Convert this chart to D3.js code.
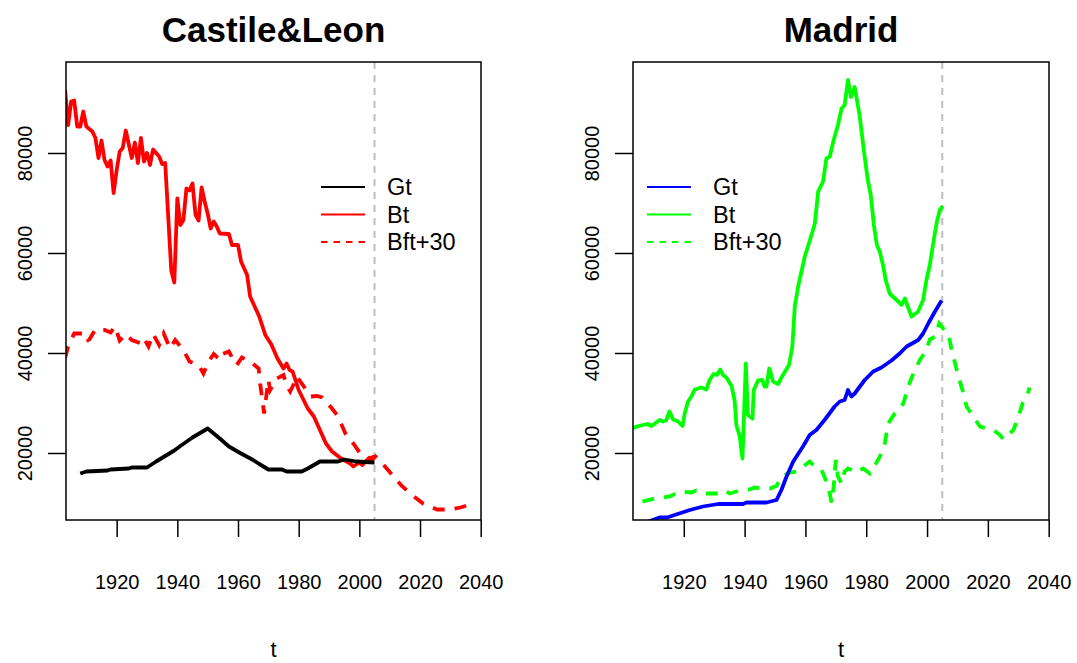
<!DOCTYPE html>
<html>
<head>
<meta charset="utf-8">
<script src="https://cdnjs.cloudflare.com/ajax/libs/d3/7.8.5/d3.min.js"></script>
<style>
    body { margin: 0; background: #fff; }
    svg text { font-family: "Liberation Sans", Arial, Helvetica, sans-serif; }
</style>
</head>
<body>
<div id="chart"></div>
<script>
// values: [year, value]
var clGt = [[1908,15900],[1910,16300],[1917,16500],[1918,16700],[1924,16900],[1925,17100],[1930,17100],[1933,18300],[1936,19400],[1939,20500],[1941,21400],[1945,23100],[1950,24900],[1954,22900],[1957,21300],[1961,19900],[1965,18600],[1967,17800],[1970,16700],[1974.5,16700],[1976,16300],[1981,16300],[1983,16900],[1987,18300],[1993,18300],[1995,18700],[1999,18300],[2005,18100]];

var clBt = [[1903,92600],[1904,85600],[1905,90300],[1906,90500],[1907,85300],[1908,85300],[1909,88300],[1910,85300],[1912,84300],[1913,83000],[1914,79000],[1915,82500],[1916,78600],[1917,77300],[1918,78500],[1919,72000],[1920,76600],[1921,80300],[1922,81000],[1923,84500],[1925,79000],[1926,82100],[1927,78000],[1928,83000],[1929,78300],[1930,80000],[1931,77600],[1932,80700],[1934,79300],[1935,77800],[1936,78000],[1938,56500],[1939,54100],[1940,70900],[1941,65600],[1942,66600],[1943,72900],[1944,72500],[1945,73900],[1946,67600],[1947,66500],[1948,73100],[1949,70300],[1950,67900],[1951,64900],[1952,66300],[1953,65300],[1954,63900],[1957,63800],[1958,61600],[1960,61600],[1961,58300],[1963,55600],[1964,51300],[1967,47300],[1969,43600],[1971,41700],[1973,38900],[1975,36900],[1976,37900],[1977,36600],[1978,36300],[1980,32600],[1983,28900],[1985,27300],[1987,24600],[1989,21900],[1991,20300],[1994,18900],[1997,17900],[1998,17300],[2000,18100],[2001,17600],[2003,18900],[2005,19300]];

var clBft = [[1903,39000],[1904,41300],[1906,43900],[1910,43900],[1910.6,42600],[1911,42700],[1913,44700],[1916,44600],[1918,44100],[1919.5,45300],[1921,42500],[1923,43800],[1925,42600],[1928,41900],[1929,42900],[1930.5,41300],[1932,43800],[1934,41600],[1935.5,43900],[1937.6,40900],[1939.3,42600],[1942,40600],[1944,38300],[1947,37600],[1948.6,35900],[1950.3,38300],[1952,39800],[1954,38600],[1955,39800],[1957,40300],[1958.5,38600],[1959.6,37600],[1961.3,39100],[1964,38300],[1966.8,36900],[1967.3,33900],[1968.6,27900],[1970,34600],[1970.6,32600],[1972.8,34900],[1975,35600],[1976,33600],[1977.2,32300],[1978.8,34300],[1979.4,35300],[1984,31300],[1986,31400],[1987.7,31100],[1991,28900],[1992.6,27600],[1993.7,26300],[1995.4,23900],[1998,21900],[2000.3,19900],[2002.5,19300],[2004.2,18600],[2005.3,19300],[2008,17600],[2011.3,15300],[2014,13400],[2017.4,11600],[2021,9900],[2025.6,8700],[2030,8700],[2033.3,9100],[2036,9600]];

var mdGt = [[1903,5200],[1908,6200],[1912,7100],[1914.5,7100],[1917.5,7700],[1922,8600],[1926.3,9300],[1931.3,9800],[1939.5,9800],[1940.6,10100],[1947.2,10100],[1950.5,10600],[1952.1,12600],[1953.8,15300],[1956,18300],[1959.2,21300],[1961.4,23600],[1963.6,24600],[1966.3,26600],[1969.6,29300],[1971.3,30300],[1972.9,30600],[1974,32600],[1975.1,31300],[1976.2,31900],[1979.5,34600],[1982.3,36300],[1985,37100],[1988.3,38500],[1991,39900],[1993.3,41300],[1997.1,42600],[1998.7,43900],[2000.4,45900],[2002.6,48300],[2004.8,50500]];

var mdBt = [[1903,24900],[1904.6,25300],[1906.6,25600],[1908.2,25800],[1909.4,25400],[1911,26100],[1912.1,26600],[1913.2,26300],[1914.2,26500],[1915.3,28300],[1916.5,26700],[1918.1,26300],[1919.6,25400],[1920.3,27900],[1921.4,30300],[1922.5,31300],[1923.6,32700],[1925.7,33100],[1927.4,32700],[1928.5,34600],[1929.8,35800],[1930.9,35600],[1932,36700],[1932.9,35600],[1934,35100],[1935.7,33400],[1936.7,30600],[1937.3,25600],[1938.4,23300],[1939.3,18900],[1940.4,37900],[1941.1,27600],[1942.6,26900],[1943,32600],[1944.4,34500],[1945.8,34600],[1946.6,33300],[1947.2,33300],[1948.1,36900],[1949.4,34300],[1951,33800],[1952.6,35600],[1954.6,37600],[1955.7,41300],[1956.5,49300],[1957.6,53300],[1959.8,59300],[1962,63600],[1963.1,65900],[1964.2,72300],[1965.8,74300],[1966.9,78900],[1968,79300],[1969.3,82600],[1970.7,85600],[1971.9,88900],[1972.9,89600],[1974,94600],[1975,91200],[1976.2,93200],[1977.8,87600],[1979.2,80600],[1980.5,74600],[1981.5,71600],[1982.5,65600],[1983.5,61600],[1984.5,60200],[1985.5,57600],[1986.4,54600],[1987.7,51900],[1990.5,50300],[1991.6,49600],[1992.7,50900],[1994.9,47300],[1997.1,48300],[1998.7,50600],[1999.8,54600],[2000.9,57600],[2002.2,62600],[2003.2,66200],[2004.2,68600],[2005.2,69400]];

var mdBft = [[1906.4,10300],[1910.4,10900],[1915.4,11300],[1918.7,12300],[1922.5,12100],[1924.1,12500],[1926.9,11900],[1931.3,11900],[1933.5,12500],[1935.1,11900],[1938.4,12500],[1941.7,12700],[1943.3,13100],[1946.1,12900],[1948.3,12900],[1950.5,13400],[1952.1,15300],[1954.9,16100],[1957.1,16300],[1961.4,18300],[1963.1,17300],[1965.3,16600],[1966.9,14300],[1968,11900],[1968.6,10100],[1969.3,13300],[1970,18600],[1970.7,15300],[1971.9,13900],[1972.9,16300],[1974,16900],[1975.1,16600],[1976.2,16100],[1979,16900],[1981.2,15900],[1982.3,16900],[1984.5,19300],[1986.1,21900],[1987.2,25900],[1989.4,27900],[1992.2,29900],[1993.8,33300],[1995.3,35600],[1997.6,38600],[1999.6,40300],[2000.9,42700],[2002.6,43300],[2004,45900],[2005.3,44900],[2007,43900],[2008.1,40600],[2010.3,35300],[2012,31900],[2013,29300],[2015.2,27300],[2017.4,25300],[2021.8,24600],[2024,23600],[2025.1,22700],[2028.4,24600],[2030.1,27300],[2031.5,30100],[2033,31600],[2033.7,33100]];

var xTicks = [1920, 1940, 1960, 1980, 2000, 2020, 2040];
var yTicks = [20000, 40000, 60000, 80000];
var legendLabels = ["Gt", "Bt", "Bft+30"];
var lastObsYear = 2005;

var outerWidth = 1077;
var outerHeight = 663;

var svg = d3.select("#chart")
    .append("svg")
    .attr("width", outerWidth)
    .attr("height", outerHeight);

var boxTop = 62, boxBottom = 520;

var panels = [
    {id: "cl", title: "Castile&Leon", left: 66, right: 481, colG: "#000000", colB: "#ff0000",
     G: clGt, B: clBt, F: clBft, legX: 321},
    {id: "md", title: "Madrid", left: 633, right: 1049, colG: "#0000ff", colB: "#00ff00",
     G: mdGt, B: mdBt, F: mdBft, legX: 647}
];

panels.forEach(function(p) {

    var xScale = d3.scaleLinear()
        .domain([1903.3, 2040.1])
        .range([p.left, p.right]);

    var yScale = d3.scaleLinear()
        .domain([6600, 98200])
        .range([boxBottom, boxTop]);

    var g = svg.append("g").attr("class", "panel-" + p.id);

    g.append("clipPath")
        .attr("id", "clip-" + p.id)
        .append("rect")
        .attr("x", p.left)
        .attr("y", boxTop)
        .attr("width", p.right - p.left)
        .attr("height", boxBottom - boxTop);

    // title
    g.append("text")
        .attr("x", (p.left + p.right) / 2)
        .attr("y", 42)
        .attr("text-anchor", "middle")
        .style("font-size", "35px")
        .style("font-weight", "bold")
        .text(p.title);

    // x axis
    var xAxis = g.append("g")
        .attr("transform", "translate(0," + boxBottom + ")")
        .call(d3.axisBottom(xScale).tickValues(xTicks).tickFormat(d3.format("d"))
            .tickSize(17).tickSizeOuter(0).tickPadding(38));
    xAxis.select(".domain").remove();
    xAxis.selectAll(".tick line").attr("stroke", "#000").attr("stroke-width", 1.5);
    xAxis.selectAll(".tick text").style("font-size", "20px").attr("fill", "#000");

    // y axis, labels turned like R does
    var yAxis = g.append("g")
        .attr("transform", "translate(" + p.left + ",0)")
        .call(d3.axisLeft(yScale).tickValues(yTicks).tickFormat(d3.format("d"))
            .tickSize(18).tickSizeOuter(0));
    yAxis.select(".domain").remove();
    yAxis.selectAll(".tick line").attr("stroke", "#000").attr("stroke-width", 1.5);
    yAxis.selectAll(".tick text")
        .attr("x", null)
        .attr("dy", null)
        .attr("text-anchor", "middle")
        .attr("transform", "translate(-34,0) rotate(-90)")
        .attr("fill", "#000")
        .style("font-size", "20px");

    // axis title
    g.append("text")
        .attr("x", (p.left + p.right) / 2)
        .attr("y", 657)
        .attr("text-anchor", "middle")
        .style("font-size", "22px")
        .text("t");

    var line = d3.line()
        .x(function(d) { return xScale(d[0]); })
        .y(function(d) { return yScale(d[1]); });

    var plot = g.append("g").attr("clip-path", "url(#clip-" + p.id + ")");

    // grey line at last observed year
    plot.append("line")
        .attr("x1", xScale(lastObsYear))
        .attr("x2", xScale(lastObsYear))
        .attr("y1", boxTop)
        .attr("y2", boxBottom)
        .attr("stroke", "#bebebe")
        .attr("stroke-width", 2)
        .attr("stroke-dasharray", "7,6");

    plot.append("path")
        .datum(p.F)
        .attr("d", line)
        .attr("fill", "none")
        .attr("stroke", p.colB)
        .attr("stroke-width", 3.8)
        .attr("stroke-dasharray", "12,10");

    plot.append("path")
        .datum(p.B)
        .attr("d", line)
        .attr("fill", "none")
        .attr("stroke", p.colB)
        .attr("stroke-width", 3.8)
        .attr("stroke-linejoin", "round");

    plot.append("path")
        .datum(p.G)
        .attr("d", line)
        .attr("fill", "none")
        .attr("stroke", p.colG)
        .attr("stroke-width", 3.8)
        .attr("stroke-linejoin", "round");

    // box
    g.append("rect")
        .attr("x", p.left)
        .attr("y", boxTop)
        .attr("width", p.right - p.left)
        .attr("height", boxBottom - boxTop)
        .attr("fill", "none")
        .attr("stroke", "#000")
        .attr("stroke-width", 1.5);

    // legend
    var legColors = [p.colG, p.colB, p.colB];
    var legDash = [null, null, "6.5,6"];
    var leg = g.selectAll(".legend-" + p.id)
        .data(legendLabels)
        .enter()
        .append("g")
        .attr("transform", function(d, i) { return "translate(" + p.legX + "," + (187 + i * 27.5) + ")"; });

    leg.append("line")
        .attr("x1", 0)
        .attr("x2", 44)
        .attr("stroke", function(d, i) { return legColors[i]; })
        .attr("stroke-width", 2)
        .attr("stroke-dasharray", function(d, i) { return legDash[i]; });

    leg.append("text")
        .attr("x", 66)
        .attr("dy", "0.36em")
        .style("font-size", "23.5px")
        .text(function(d) { return d; });
});
</script>
</body>
</html>
